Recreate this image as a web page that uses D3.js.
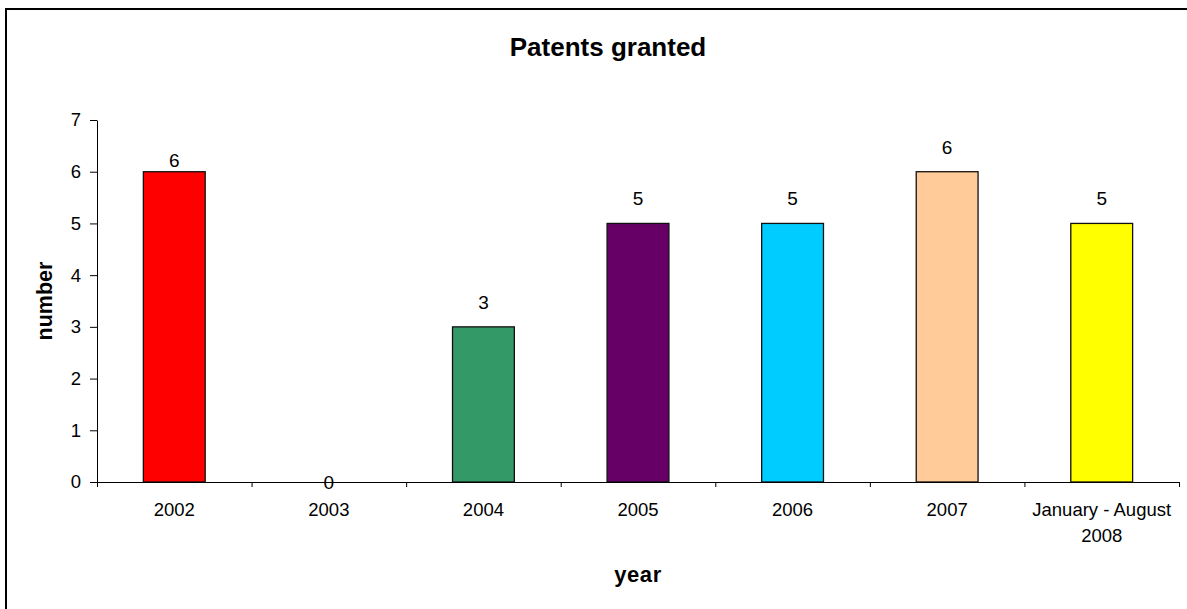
<!DOCTYPE html>
<html>
<head>
<meta charset="utf-8">
<script src="https://cdn.jsdelivr.net/npm/d3@7"></script>
<style>
  html, body { margin: 0; padding: 0; background: #fff; }
  svg { display: block; font-family: "Liberation Sans", Arial, sans-serif; }
</style>
</head>
<body>
<svg id="chart" width="1187" height="609"></svg>
<script>
const categories = ["2002", "2003", "2004", "2005", "2006", "2007", "January - August\n2008"];
const values = [6, 0, 3, 5, 5, 6, 5];
const barColors = ["#FF0000", "#FFFFFF", "#339966", "#660066", "#00CCFF", "#FFCC99", "#FFFF00"];
const yTicks = [0, 1, 2, 3, 4, 5, 6, 7];
const title = "Patents granted";
const xTitle = "year";
const yTitle = "number";

const svg = d3.select("#chart");

// outer border
svg.append("rect")
  .attr("x", 6).attr("y", 9)
  .attr("width", 1300).attr("height", 700)
  .attr("fill", "none").attr("stroke", "#000").attr("stroke-width", 2);

const plot = { left: 97, right: 1179, top: 120, bottom: 482 };

const x = d3.scaleBand()
  .domain(categories)
  .range([plot.left, plot.right])
  .paddingInner(0.6)
  .paddingOuter(0.3);

const xEdge = d3.scaleLinear().domain([0, categories.length]).range([plot.left, plot.right]);

const y = d3.scaleLinear().domain([0, 7]).range([plot.bottom, plot.top]);

// bars
svg.append("g").selectAll("rect")
  .data(values.map((v, i) => ({ v, i, c: categories[i] })))
  .join("rect")
  .filter(d => d.v > 0)
  .attr("x", d => x(d.c))
  .attr("y", d => y(d.v))
  .attr("width", x.bandwidth())
  .attr("height", d => y(0) - y(d.v))
  .attr("fill", d => barColors[d.i])
  .attr("stroke", "#111")
  .attr("stroke-width", 1.3);

// y axis
const yAxis = svg.append("g")
  .attr("transform", `translate(${plot.left},0)`)
  .call(d3.axisLeft(y).tickValues(yTicks).tickFormat(d3.format("d")).tickSize(7).tickSizeOuter(0).tickPadding(9));
yAxis.selectAll("text").attr("font-size", 18.5).attr("fill", "#000").attr("font-family", "Liberation Sans, Arial, sans-serif");
yAxis.selectAll("line, path").attr("stroke", "#000");

// x axis (ticks at category boundaries)
const xAxis = svg.append("g")
  .attr("transform", `translate(0,${plot.bottom})`)
  .call(d3.axisBottom(xEdge).tickValues(d3.range(categories.length + 1)).tickFormat("").tickSize(5).tickSizeOuter(0));
xAxis.selectAll("line, path").attr("stroke", "#000");

// x labels
const xl = svg.append("g").selectAll("text")
  .data(categories)
  .join("text")
  .attr("text-anchor", "middle")
  .attr("font-size", 18.5)
  .attr("fill", "#000")
  .attr("x", d => x(d) + x.bandwidth() / 2)
  .attr("y", plot.bottom + 34);
xl.each(function(d) {
  const lines = d.split("\n");
  const t = d3.select(this);
  lines.forEach((ln, k) => {
    t.append("tspan").attr("x", x(d) + x.bandwidth() / 2).attr("dy", k === 0 ? 0 : 26).text(ln);
  });
});

// value labels
svg.append("g").selectAll("text")
  .data(values.map((v, i) => ({ v, i, c: categories[i] })))
  .join("text")
  .attr("text-anchor", "middle")
  .attr("font-size", 19)
  .attr("fill", "#000")
  .attr("x", d => x(d.c) + x.bandwidth() / 2)
  .attr("y", d => d.v === 0 ? y(0) + 7 : y(d.v) - (d.i === 0 ? 4.5 : 18))
  .text(d => d.v);

// title
svg.append("text")
  .attr("x", 608).attr("y", 56)
  .attr("text-anchor", "middle")
  .attr("font-size", 26).attr("font-weight", "bold")
  .text(title);

// axis titles
svg.append("text")
  .attr("x", (plot.left + plot.right) / 2).attr("y", 582)
  .attr("text-anchor", "middle")
  .attr("font-size", 22).attr("font-weight", "bold")
  .attr("letter-spacing", 0.6)
  .text(xTitle);

svg.append("text")
  .attr("transform", `translate(52,${(plot.top + plot.bottom) / 2}) rotate(-90)`)
  .attr("text-anchor", "middle")
  .attr("font-size", 21.5).attr("font-weight", "bold")
  .text(yTitle);
</script>
</body>
</html>
